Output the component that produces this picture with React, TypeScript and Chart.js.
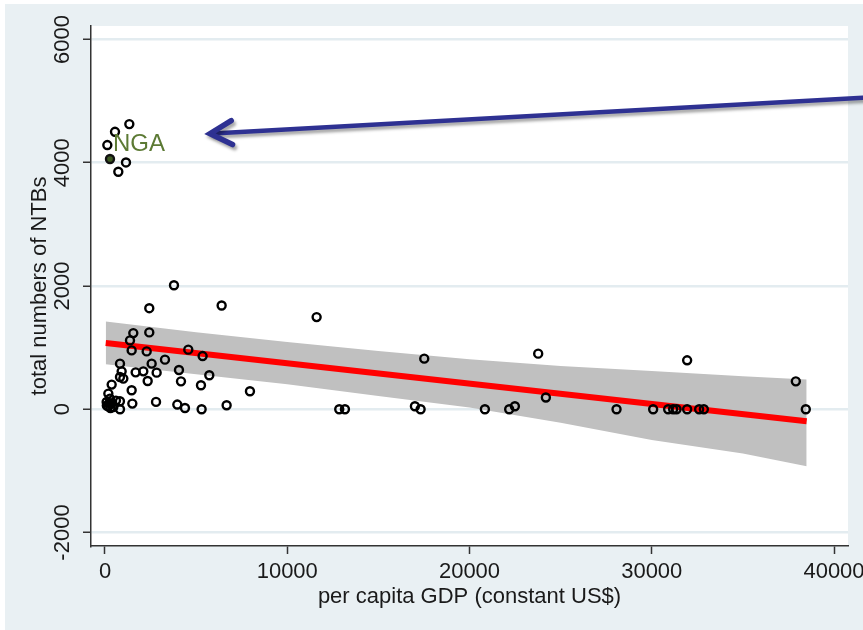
import React, { useEffect, useRef } from "react";
import { Chart, registerables } from "chart.js";

Chart.register(...registerables);

// ---- data ----
const gdp = [
  1335, 549, 128, 1152, 731,
  3785, 2430, 6400, 11612, 1553, 2430, 1371, 1463, 2287, 4570, 5357, 3291, 823, 2560,
  17517, 23769, 31942, 37905, 24191,
  914, 1682, 2103, 2834, 4059, 823, 1006, 2342, 4169, 5723, 366, 1463, 5266, 7954,
  183, 274, 91, 366, 600, 820, 183, 457, 823, 1500, 2800, 3968, 4388, 5302, 6674,
  12853, 13165, 17005, 17317, 20845, 22178, 22490, 28068, 30077, 30900, 31174, 31358,
  31942, 32600, 32858, 38453, 100, 300, 250,
];
const ntbs = [
  4627, 4502, 4287, 4005, 3854,
  2013, 1640, 1684, 1495, 1236, 1247, 1117, 955, 939, 967, 863, 805, 740, 740,
  821, 902, 794, 453, 190,
  615, 599, 615, 594, 637, 523, 497, 459, 453, 551, 400, 308, 389, 292,
  254, 173, 118, 92, 140, 130, 49, 37, 0, 92, 119, 76, 21, 0, 65,
  0, 0, 49, 0, 0, 0, 49, 0, 0, 0, 0, 0,
  0, 0, 0, 0, 60, 20, 100,
];
const ngaGdp = [274];
const ngaNtbs = [4060];
const ngaLabel = "NGA";

const fitX = [40, 38500];
const fitY = [1075, -195];

const ciX = [40, 5000, 10000, 15000, 20000, 25000, 30000, 35000, 38500];
const ciUpper = [1425, 1249, 1090, 944, 810, 700, 620, 535, 481];
const ciLower = [729, 570, 405, 214, 27, -220, -500, -720, -923];

const xTicks = [0, 10000, 20000, 30000, 40000];
const yTicks = [-2000, 0, 2000, 4000, 6000];
const xTitle = "per capita GDP (constant US$)";
const yTitle = "total numbers of NTBs";

// annotation arrow (data units): head, tail
const arrowX = [5760, 41580];
const arrowY = [4470, 5053];

const FONT = "'Liberation Sans', Arial, sans-serif";
const FS = 22;

export default function App() {
  const ref = useRef<HTMLCanvasElement>(null);

  useEffect(() => {
    if (!ref.current) return;

    const bgPlugin = {
      id: "bg",
      beforeDraw(chart: any) {
        const { ctx, chartArea, width, height } = chart;
        ctx.save();
        ctx.fillStyle = "#ffffff";
        ctx.fillRect(0, 0, width, height);
        ctx.fillStyle = "#e9f0f3";
        ctx.fillRect(5, 4, width - 5, height - 4);
        ctx.fillStyle = "#ffffff";
        ctx.fillRect(chartArea.left, chartArea.top, chartArea.right - chartArea.left, chartArea.bottom - chartArea.top);
        ctx.restore();
      },
    };

    const annoPlugin = {
      id: "anno",
      afterDraw(chart: any) {
        const { ctx } = chart;
        const xs = chart.scales.x;
        const ys = chart.scales.y;
        // NGA label
        const px = xs.getPixelForValue(ngaGdp[0]);
        const py = ys.getPixelForValue(ngaNtbs[0]);
        ctx.save();
        ctx.font = `24px ${FONT}`;
        ctx.fillStyle = "#5c7a34";
        ctx.textBaseline = "middle";
        ctx.textAlign = "left";
        ctx.fillText(ngaLabel, px + 3, py - 15);
        ctx.restore();

        // arrow
        const hx = xs.getPixelForValue(arrowX[0]);
        const hy = ys.getPixelForValue(arrowY[0]);
        const tx = xs.getPixelForValue(arrowX[1]);
        const ty = ys.getPixelForValue(arrowY[1]);
        const ang = Math.atan2(ty - hy, tx - hx);
        const L = 25;
        const spread = 0.5;
        ctx.save();
        ctx.strokeStyle = "#2e3192";
        ctx.lineWidth = 4.5;
        ctx.lineCap = "round";
        ctx.lineJoin = "miter";
        ctx.shadowColor = "rgba(0,0,0,0.35)";
        ctx.shadowBlur = 3;
        ctx.shadowOffsetX = 2;
        ctx.shadowOffsetY = 3;
        ctx.beginPath();
        ctx.moveTo(tx, ty);
        ctx.lineTo(hx + 3 * Math.cos(ang), hy + 3 * Math.sin(ang));
        ctx.stroke();
        ctx.beginPath();
        ctx.moveTo(hx + L * Math.cos(ang - spread), hy + L * Math.sin(ang - spread));
        ctx.lineTo(hx, hy);
        ctx.lineTo(hx + L * Math.cos(ang + spread), hy + L * Math.sin(ang + spread));
        ctx.lineWidth = 5.5;
        ctx.stroke();
        ctx.restore();
      },
    };

    const chart = new Chart(ref.current, {
      type: "scatter",
      data: {
        datasets: [
          {
            type: "scatter",
            label: "NGA",
            data: ngaGdp.map((x, i) => ({ x, y: ngaNtbs[i] })),
            pointRadius: 4,
            pointBorderWidth: 2.4,
            pointBorderColor: "#111111",
            pointBackgroundColor: "#3d5a22",
            order: 0,
          },
          {
            type: "scatter",
            label: "NTBs",
            data: gdp.map((x, i) => ({ x, y: ntbs[i] })),
            pointRadius: 4,
            pointBorderWidth: 2.4,
            pointBorderColor: "#000000",
            pointBackgroundColor: "rgba(0,0,0,0)",
            order: 1,
          },
          {
            type: "line",
            label: "fit",
            data: fitX.map((x, i) => ({ x, y: fitY[i] })),
            borderColor: "#ff0000",
            borderWidth: 6,
            pointRadius: 0,
            fill: false,
            order: 2,
          },
          {
            type: "line",
            label: "ciU",
            data: ciX.map((x, i) => ({ x, y: ciUpper[i] })),
            borderWidth: 0,
            borderColor: "rgba(0,0,0,0)",
            backgroundColor: "#c0c0c0",
            pointRadius: 0,
            fill: "+1",
            order: 3,
          },
          {
            type: "line",
            label: "ciL",
            data: ciX.map((x, i) => ({ x, y: ciLower[i] })),
            borderWidth: 0,
            borderColor: "rgba(0,0,0,0)",
            pointRadius: 0,
            fill: false,
            order: 4,
          },
        ],
      },
      options: {
        responsive: false,
        animation: false,
        devicePixelRatio: 1,
        layout: { padding: { left: 0, top: 26, right: 15, bottom: 0 } },
        plugins: { legend: { display: false }, tooltip: { enabled: false } },
        scales: {
          x: {
            type: "linear",
            min: -768,
            max: 40768,
            afterBuildTicks: (s: any) => {
              s.ticks = xTicks.map((v) => ({ value: v }));
            },
            afterFit: (s: any) => {
              s.height = 84;
              s.paddingRight = 0;
              s.paddingLeft = 0;
            },
            grid: {
              drawOnChartArea: false,
              drawTicks: true,
              tickLength: 8,
              tickColor: "#333333",
              tickWidth: 1.5,
            },
            border: { display: true, color: "#333333", width: 1.5 },
            ticks: {
              font: { family: FONT, size: FS },
              color: "#1a1a1a",
              padding: 5,
              maxRotation: 0,
              minRotation: 0,
              autoSkip: false,
              callback: (v: any) => String(v),
            },
            title: {
              display: true,
              text: xTitle,
              font: { family: FONT, size: FS },
              color: "#1a1a1a",
              padding: { top: 0, bottom: 20 },
            },
          },
          y: {
            type: "linear",
            min: -2219,
            max: 6219,
            afterBuildTicks: (s: any) => {
              s.ticks = yTicks.map((v) => ({ value: v }));
            },
            afterFit: (s: any) => {
              s.width = 91;
              s.paddingTop = 0;
              s.paddingBottom = 0;
            },
            grid: {
              drawOnChartArea: true,
              color: "#e3ecf0",
              lineWidth: 2.5,
              drawTicks: true,
              tickLength: 8,
              tickColor: "#333333",
              tickWidth: 1.5,
            },
            border: { display: true, color: "#333333", width: 1.5 },
            ticks: {
              font: { family: FONT, size: FS },
              color: "#1a1a1a",
              padding: -8,
              minRotation: 90,
              maxRotation: 90,
              crossAlign: "center",
              autoSkip: false,
              callback: (v: any) => String(v),
            },
            title: {
              display: true,
              text: yTitle,
              font: { family: FONT, size: FS },
              color: "#1a1a1a",
              padding: { top: 27, bottom: 0 },
            },
          },
        },
      },
      plugins: [bgPlugin, annoPlugin],
    } as any);

    return () => chart.destroy();
  }, []);

  return (
    <div style={{ position: "fixed", left: 0, top: 0, width: 863, height: 630 }}>
      <canvas ref={ref} width={863} height={630} style={{ display: "block" }} />
    </div>
  );
}
